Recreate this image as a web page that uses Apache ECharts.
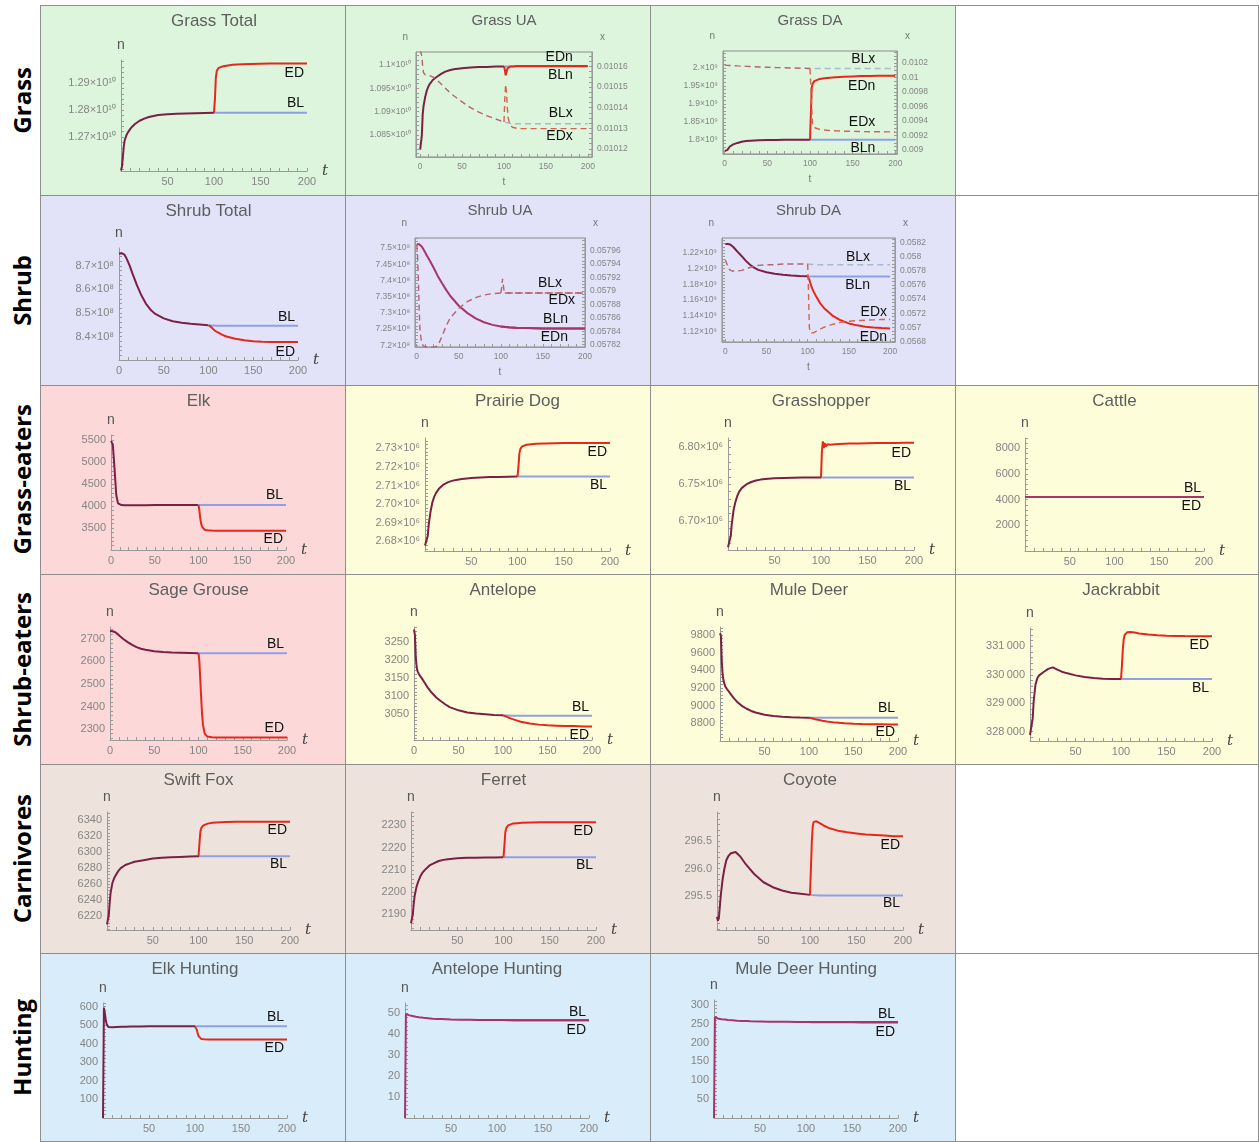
<!DOCTYPE html>
<html>
<head>
<meta charset="utf-8">
<title>Baseline vs ED scenarios</title>
<script src="https://cdn.jsdelivr.net/npm/echarts@6.0.0/dist/echarts.min.js"></script>
<style>
  html, body { margin: 0; padding: 0; background: #fff; }
  #page { position: relative; width: 1259px; height: 1142px; overflow: hidden; }
  .cell { position: absolute; box-sizing: border-box; border: 1px solid #8e8e8e; }
  .chart { position: absolute; }
  .rowlabel { position: absolute; left: 0; width: 42px; display: flex; align-items: center; justify-content: center; }
  .rowlabel span { writing-mode: vertical-rl; transform: rotate(180deg); font-family: 'Open Sans', sans-serif;
    font-weight: 700; font-size: 24px; color: #000; white-space: nowrap; }
</style>
</head>
<body>
<div id="page"></div>
<script>
// time grids: BL runs over the whole period, ED departs from BL at t = 100
const tAll = [0, 1, 2, 3, 4, 6, 8, 10, 12, 15, 20, 25, 30, 35, 40, 50, 60, 70, 80, 90, 100,
  110, 120, 130, 140, 150, 160, 170, 180, 190, 200];
const tEd = [100, 101, 102, 103, 104, 105, 107, 110, 115, 120, 130, 140, 150, 160, 170, 180, 190, 200];
const tSplit = 100;

// Grass (n in units of 10^10 / 10^9)
const grassTotalBL = [1.2576, 1.2590, 1.2625, 1.2665, 1.2688, 1.2708, 1.2720, 1.2730, 1.2738, 1.2748,
  1.2760, 1.2768, 1.2774, 1.2778, 1.2781, 1.2784, 1.2786, 1.2787, 1.2788, 1.2789, 1.2790,
  1.2790, 1.2790, 1.2790, 1.2790, 1.2790, 1.2790, 1.2790, 1.2790, 1.2790, 1.2790];
const grassTotalED = [1.2790, 1.2840, 1.2920, 1.2945, 1.2952, 1.2956, 1.2959, 1.2962, 1.2965, 1.2967,
  1.2969, 1.2970, 1.2971, 1.2972, 1.2972, 1.2972, 1.2972, 1.2972];

const grassUaBLn = [1.0819, 1.0819, 1.0850, 1.0895, 1.0912, 1.0932, 1.0946, 1.0955, 1.0961, 1.0968,
  1.0975, 1.0981, 1.0986, 1.0989, 1.0991, 1.0993, 1.0995, 1.0996, 1.0996, 1.0997, 1.0997,
  1.0997, 1.0997, 1.0997, 1.0997, 1.0997, 1.0997, 1.0997, 1.0997, 1.0997, 1.0997];
const grassUaEDn = [1.0997, 1.0990, 1.0978, 1.0985, 1.0992, 1.0995, 1.0997, 1.0997, 1.0998, 1.0998,
  1.0998, 1.0998, 1.0998, 1.0998, 1.0998, 1.0998, 1.0998, 1.0998];
const grassUaBLx = [0.010168, 0.010168, 0.010165, 0.010160, 0.010157, 0.010156, 0.010156, 0.0101558, 0.0101555, 0.010155,
  0.0101535, 0.0101515, 0.0101495, 0.0101475, 0.0101458, 0.0101428, 0.0101400, 0.0101378, 0.0101360, 0.0101345, 0.0101330,
  0.0101322, 0.0101322, 0.0101322, 0.0101322, 0.0101322, 0.0101322, 0.0101322, 0.0101322, 0.0101322, 0.0101322];
const grassUaEDx = [0.0101330, 0.0101450, 0.0101513, 0.0101470, 0.0101400, 0.0101350, 0.0101318, 0.0101305, 0.0101300, 0.0101299,
  0.0101298, 0.0101298, 0.0101298, 0.0101298, 0.0101298, 0.0101298, 0.0101298, 0.0101298];

const grassDaBLn = [1.7700, 1.7700, 1.7710, 1.7720, 1.7750, 1.7820, 1.7860, 1.7880, 1.7900, 1.7920,
  1.7950, 1.7970, 1.7980, 1.7990, 1.7995, 1.8000, 1.8003, 1.8005, 1.8006, 1.8007, 1.8008,
  1.8008, 1.8008, 1.8008, 1.8008, 1.8008, 1.8008, 1.8008, 1.8008, 1.8008, 1.8008];
const grassDaEDn = [1.8008, 1.8700, 1.9450, 1.9550, 1.9600, 1.9630, 1.9660, 1.9680, 1.9700, 1.9720,
  1.9740, 1.9750, 1.9760, 1.9770, 1.9770, 1.9780, 1.9780, 1.9780];
const grassDaBLx = [0.010172, 0.010171, 0.010170, 0.010168, 0.010167, 0.010167, 0.010166, 0.010165, 0.010163, 0.010161,
  0.010158, 0.010155, 0.010152, 0.010149, 0.010147, 0.010143, 0.010139, 0.010136, 0.010132, 0.010129, 0.010126,
  0.010126, 0.010126, 0.010126, 0.010126, 0.010126, 0.010126, 0.010126, 0.010126, 0.010126, 0.010126];
const grassDaEDx = [0.010126, 0.010150, 0.009600, 0.009330, 0.009320, 0.009310, 0.009300, 0.009290, 0.009278, 0.009272,
  0.009265, 0.009260, 0.009258, 0.009255, 0.009253, 0.009252, 0.009251, 0.009250];

// Shrub (n in units of 10^8 / 10^9)
const shrubTotalBL = [8.752, 8.753, 8.754, 8.754, 8.753, 8.748, 8.735, 8.718, 8.700, 8.668,
  8.618, 8.575, 8.540, 8.515, 8.497, 8.477, 8.465, 8.458, 8.454, 8.451, 8.448,
  8.446, 8.446, 8.446, 8.446, 8.446, 8.446, 8.446, 8.446, 8.446, 8.446];
const shrubTotalED = [8.448, 8.446, 8.443, 8.440, 8.436, 8.432, 8.425, 8.418, 8.408, 8.400,
  8.390, 8.384, 8.380, 8.378, 8.377, 8.376, 8.376, 8.376];

const shrubUaBLn = [7.512, 7.512, 7.512, 7.512, 7.511, 7.505, 7.496, 7.487, 7.477, 7.464,
  7.440, 7.414, 7.392, 7.371, 7.352, 7.322, 7.300, 7.283, 7.271, 7.263, 7.258,
  7.255, 7.2535, 7.253, 7.2525, 7.252, 7.252, 7.252, 7.252, 7.252, 7.252];
const shrubUaEDn = [7.258, 7.2578, 7.2576, 7.2574, 7.2572, 7.2570, 7.2565, 7.2555, 7.2545, 7.2535,
  7.2530, 7.2525, 7.2520, 7.2520, 7.2520, 7.2520, 7.2520, 7.2520];
const shrubUaBLx = [0.057969, 0.057955, 0.057920, 0.057870, 0.057840, 0.057822, 0.057818, 0.057817, 0.057816, 0.057816,
  0.057816, 0.057818, 0.057832, 0.057848, 0.057860, 0.057874, 0.057884, 0.057890, 0.057894, 0.057896, 0.057897,
  0.057897, 0.057897, 0.057897, 0.057897, 0.057897, 0.057897, 0.057897, 0.057897, 0.057897, 0.057897];
const shrubUaEDx = [0.057897, 0.057905, 0.057918, 0.057908, 0.057899, 0.057897, 0.057897, 0.057897, 0.057897, 0.057897,
  0.057897, 0.057897, 0.057897, 0.057897, 0.057897, 0.057897, 0.057897, 0.057897];

const shrubDaBLn = [1.2316, 1.2316, 1.2316, 1.2316, 1.2315, 1.2310, 1.2295, 1.2275, 1.2252, 1.2215,
  1.2160, 1.2100, 1.2050, 1.2013, 1.1985, 1.1955, 1.1935, 1.1922, 1.1913, 1.1907, 1.1903,
  1.1900, 1.1900, 1.1900, 1.1900, 1.1900, 1.1900, 1.1900, 1.1900, 1.1900, 1.1900];
const shrubDaEDn = [1.1903, 1.1890, 1.1860, 1.1825, 1.1790, 1.1760, 1.1710, 1.1650, 1.1560, 1.1495,
  1.1400, 1.1340, 1.1300, 1.1275, 1.1258, 1.1247, 1.1240, 1.1235];
const shrubDaBLx = [0.05796, 0.05795, 0.05790, 0.05786, 0.05783, 0.05781, 0.05780, 0.05780, 0.05780, 0.05780,
  0.05781, 0.05783, 0.05785, 0.05787, 0.05788, 0.05789, 0.05789, 0.05790, 0.05790, 0.05790, 0.05790,
  0.05789, 0.05789, 0.05789, 0.05789, 0.05789, 0.05789, 0.05789, 0.05789, 0.05789, 0.05789];
const shrubDaEDx = [0.05790, 0.05750, 0.05700, 0.05692, 0.05691, 0.056915, 0.05692, 0.05694, 0.05697, 0.05700,
  0.05704, 0.05707, 0.057085, 0.057095, 0.05710, 0.057105, 0.05711, 0.05711];

// Grass-eaters
const elkBL = [5480, 5470, 5400, 5150, 4860, 4250, 4060, 4030, 4020, 4016,
  4015, 4016, 4017, 4018, 4019, 4020, 4021, 4022, 4022, 4023, 4023,
  4023, 4023, 4023, 4023, 4023, 4023, 4023, 4023, 4023, 4023];
const elkED = [4023, 3900, 3720, 3600, 3530, 3490, 3460, 3448, 3442, 3440,
  3440, 3440, 3440, 3440, 3440, 3440, 3440, 3440];

const prairieDogBL = [2.6778, 2.6778, 2.6780, 2.6830, 2.6890, 2.6960, 2.7010, 2.7040, 2.7060, 2.7082,
  2.7105, 2.7118, 2.7126, 2.7131, 2.7135, 2.7140, 2.7143, 2.7145, 2.7146, 2.7147, 2.7148,
  2.7148, 2.7148, 2.7148, 2.7148, 2.7148, 2.7148, 2.7148, 2.7148, 2.7148, 2.7148];
const prairieDogED = [2.7148, 2.7200, 2.7270, 2.7295, 2.7305, 2.7310, 2.7315, 2.7319, 2.7322, 2.7324,
  2.7326, 2.7327, 2.7328, 2.7328, 2.7328, 2.7328, 2.7328, 2.7328];

const grasshopperBL = [6.6644, 6.6644, 6.6650, 6.6800, 6.6955, 6.7150, 6.7260, 6.7340, 6.7400, 6.7450,
  6.7500, 6.7530, 6.7550, 6.7562, 6.7570, 6.7580, 6.7585, 6.7588, 6.7590, 6.7591, 6.7592,
  6.7592, 6.7592, 6.7592, 6.7592, 6.7592, 6.7592, 6.7592, 6.7592, 6.7592, 6.7592];
const grasshopperED = [6.7592, 6.7950, 6.8080, 6.7990, 6.8060, 6.8010, 6.8040, 6.8035, 6.8042, 6.8046,
  6.8050, 6.8053, 6.8055, 6.8057, 6.8058, 6.8059, 6.8060, 6.8060];

const cattleBL = [4210, 4210, 4210, 4210, 4210, 4210, 4210, 4210, 4210, 4210,
  4210, 4210, 4210, 4210, 4210, 4210, 4210, 4210, 4210, 4210, 4210,
  4210, 4210, 4210, 4210, 4210, 4210, 4210, 4210, 4210, 4210];
const cattleED = [4210, 4210, 4210, 4210, 4210, 4210, 4210, 4210, 4210, 4210,
  4210, 4210, 4210, 4210, 4210, 4210, 4210, 4210];

// Shrub-eaters
const sageGrouseBL = [2734, 2734, 2733, 2733, 2732, 2729, 2723, 2716, 2709, 2699,
  2685, 2673, 2663, 2656, 2651, 2645, 2641, 2639, 2638, 2637, 2636,
  2636, 2636, 2636, 2636, 2636, 2636, 2636, 2636, 2636, 2636];
const sageGrouseED = [2636, 2600, 2520, 2440, 2370, 2320, 2280, 2267, 2264, 2263,
  2263, 2263, 2263, 2263, 2263, 2263, 2263, 2263];

const antelopeBL = [3285, 3270, 3208, 3180, 3168, 3158, 3151, 3144, 3136, 3124,
  3108, 3095, 3085, 3076, 3068, 3059, 3053, 3050, 3048, 3046, 3045,
  3044, 3044, 3044, 3044, 3044, 3044, 3044, 3044, 3044, 3044];
const antelopeED = [3045, 3044, 3043, 3042, 3041, 3040, 3038, 3035, 3031, 3027,
  3022, 3019, 3017, 3016, 3015, 3015, 3014, 3014];

const muleDeerBL = [9820, 9790, 9500, 9350, 9280, 9215, 9185, 9160, 9130, 9090,
  9035, 8995, 8965, 8940, 8922, 8898, 8884, 8875, 8869, 8865, 8862,
  8862, 8862, 8862, 8862, 8862, 8862, 8862, 8862, 8862, 8862];
const muleDeerED = [8862, 8861, 8859, 8857, 8855, 8852, 8847, 8840, 8830, 8821,
  8808, 8800, 8795, 8792, 8790, 8789, 8788, 8788];

const jackrabbitBL = [327880, 327880, 327900, 328470, 329060, 329650, 329880, 329980, 330040, 330100,
  330210, 330260, 330180, 330110, 330060, 329980, 329920, 329885, 329865, 329852, 329848,
  329848, 329848, 329848, 329848, 329848, 329848, 329848, 329848, 329848, 329848];
const jackrabbitED = [329848, 330300, 330900, 331250, 331400, 331460, 331500, 331506, 331485, 331455,
  331415, 331392, 331378, 331368, 331362, 331358, 331355, 331353];

// Carnivores
const swiftFoxBL = [6210, 6210, 6222, 6238, 6250, 6262, 6268, 6272, 6276, 6280,
  6284, 6286, 6288, 6289, 6290, 6292, 6293, 6293.5, 6294, 6294.5, 6295,
  6295, 6295, 6295, 6295, 6295, 6295, 6295, 6295, 6295, 6295];
const swiftFoxED = [6295, 6310, 6325, 6330, 6332, 6333, 6334.5, 6335.5, 6336.5, 6337,
  6337.5, 6338, 6338, 6338, 6338, 6338, 6338, 6338];

const ferretBL = [2186, 2186, 2190, 2195, 2198.5, 2202.5, 2205, 2207, 2208.5, 2210,
  2212, 2213, 2214, 2214.5, 2214.8, 2215.2, 2215.4, 2215.5, 2215.6, 2215.6, 2215.7,
  2215.7, 2215.7, 2215.7, 2215.7, 2215.7, 2215.7, 2215.7, 2215.7, 2215.7, 2215.7];
const ferretED = [2215.7, 2221, 2227, 2228.8, 2229.5, 2230, 2230.4, 2230.8, 2231, 2231.2,
  2231.3, 2231.4, 2231.4, 2231.4, 2231.4, 2231.4, 2231.4, 2231.4];

const coyoteBL = [295.12, 295.05, 295.1, 295.3, 295.5, 295.8, 296.0, 296.15, 296.22, 296.28,
  296.3, 296.22, 296.1, 296.0, 295.9, 295.75, 295.66, 295.6, 295.56, 295.54, 295.52,
  295.51, 295.51, 295.51, 295.51, 295.51, 295.51, 295.51, 295.51, 295.51, 295.51];
const coyoteED = [295.52, 296.0, 296.5, 296.78, 296.85, 296.87, 296.86, 296.83, 296.78, 296.74,
  296.69, 296.66, 296.64, 296.62, 296.61, 296.6, 296.59, 296.59];

// Hunting
const elkHuntBL = [0, 595, 565, 530, 505, 490, 488, 489, 490, 491,
  492, 492, 493, 493, 493, 494, 494, 494, 494, 494, 494,
  494, 494, 494, 494, 494, 494, 494, 494, 494, 494];
const elkHuntED = [494, 490, 475, 455, 440, 432, 426, 424, 423, 423,
  423, 423, 423, 423, 423, 423, 423, 423];

const antelopeHuntBL = [0, 49.8, 49.6, 49.4, 49.2, 49.0, 48.8, 48.6, 48.4, 48.2,
  47.9, 47.7, 47.5, 47.4, 47.3, 47.1, 47.0, 46.95, 46.9, 46.9, 46.85,
  46.85, 46.8, 46.8, 46.8, 46.8, 46.8, 46.8, 46.8, 46.8, 46.8];
const antelopeHuntED = [46.85, 46.85, 46.84, 46.84, 46.83, 46.83, 46.82, 46.8, 46.78, 46.76,
  46.74, 46.72, 46.7, 46.7, 46.7, 46.7, 46.7, 46.7];

const muleDeerHuntBL = [0, 268, 266, 265, 264, 263, 262, 261.5, 261, 260,
  259, 258, 257.5, 257, 256.5, 256, 255.5, 255, 255, 254.8, 254.6,
  254.5, 254.5, 254.5, 254.5, 254.5, 254.5, 254.5, 254.5, 254.5, 254.5];
const muleDeerHuntED = [254.6, 254.6, 254.5, 254.5, 254.4, 254.4, 254.3, 254.2, 254.1, 254,
  253.9, 253.8, 253.7, 253.6, 253.6, 253.5, 253.5, 253.5];

// tick values
const tTicks = [50, 100, 150, 200];
const tTicks0 = [0, 50, 100, 150, 200];

const FONT = "'Liberation Sans', Arial, sans-serif";
const MIX = '#7b1f45', BLUE = '#8fa0e4', RED = '#e4281b', SAME = '#a8346a';
const MIXX = '#b4646f', BLUEX = '#a6bccd', REDX = '#d4644e';
const AXIS = '#9a9a9a', TICKTXT = '#858585';
const GREEN = '#dcf5dc', LILAC = '#e2e2f8', PINK = '#fdd8d8', CREAM = '#fdfdd9', TAN = '#eee3dc', SKY = '#d9ecfa';

const colLeft = [40, 345, 650, 955, 1259];
const rowTop = [5, 195, 385, 574, 764, 953, 1142];
const rowNames = ['Grass', 'Shrub', 'Grass-eaters', 'Shrub-eaters', 'Carnivores', 'Hunting'];
const cellBg = [
  [GREEN, GREEN, GREEN, '#fff'],
  [LILAC, LILAC, LILAC, '#fff'],
  [PINK, CREAM, CREAM, CREAM],
  [PINK, CREAM, CREAM, CREAM],
  [TAN, TAN, TAN, '#fff'],
  [SKY, SKY, SKY, '#fff']
];

function sup(n) { return String(n).split('').map(d => '⁰¹²³⁴⁵⁶⁷⁸⁹'[+d]).join(''); }
function sci(exp, dec) {
  return v => {
    let s = dec != null ? v.toFixed(dec) : String(parseFloat(v.toFixed(4)));
    if (s.indexOf('.') < 0) s += '.';
    return s + '×10' + sup(exp);
  };
}
const plain = v => String(parseFloat(v.toFixed(6)));
const oneDec = v => v.toFixed(1);
const kilo = v => Math.round(v / 1000) + '\u2009000';

const charts = [
  { title: 'Grass Total', r: 0, c: 0, grid: [81, 38, 55, 24], xTicks: tTicks,
    y: { min: 1.2574, max: 1.2985, ticks: [1.27, 1.28, 1.29], fmt: sci(10, 2) },
    bl: grassTotalBL, ed: grassTotalED, lBL: ['BL', -3, -10], lED: ['ED', -3, 10] },
  { title: 'Grass UA', r: 0, c: 1, grid: [71, 58, 47, 38], xMin: -5, xMax: 205, xTicks: tTicks0,
    y: { min: 1.0803, max: 1.1028, ticks: [1.085, 1.09, 1.095, 1.1], fmt: sci(10) },
    y2: { min: 0.0101160, max: 0.0101671, ticks: [0.01012, 0.01013, 0.01014, 0.01015, 0.01016], fmt: plain },
    bl: grassUaBLn, ed: grassUaEDn, bx: grassUaBLx, ex: grassUaEDx,
    lBL: ['BLn', -15, 9], lED: ['EDn', -15, -9], lBX: ['BLx', -15, -11], lEX: ['EDx', -15, 7] },
  { title: 'Grass DA', r: 0, c: 2, grid: [73, 58, 46, 41], xMin: -2, xMax: 202, xTicks: tTicks0,
    y: { min: 1.7613, max: 2.0464, ticks: [1.8, 1.85, 1.9, 1.95, 2], fmt: sci(9) },
    y2: { min: 0.008945, max: 0.010367, ticks: [0.009, 0.0092, 0.0094, 0.0096, 0.0098, 0.01, 0.0102, 0.0104], fmt: plain },
    bl: grassDaBLn, ed: grassDaEDn, bx: grassDaBLx, ex: grassDaEDx,
    lBL: ['BLn', -20, 8], lED: ['EDn', -20, 10], lBX: ['BLx', -20, -9], lEX: ['EDx', -20, -10] },

  { title: 'Shrub Total', r: 1, c: 0, grid: [79, 47, 53, 25], xTicks: tTicks0,
    y: { min: 8.3, max: 8.776, ticks: [8.4, 8.5, 8.6, 8.7], fmt: sci(8, 1) },
    bl: shrubTotalBL, ed: shrubTotalED, lBL: ['BL', -3, -9], lED: ['ED', -3, 10] },
  { title: 'Shrub UA', r: 1, c: 1, grid: [70, 65, 43, 38], xMin: -2, xMax: 200, xTicks: tTicks0, same: true,
    y: { min: 7.1947, max: 7.531, ticks: [7.2, 7.25, 7.3, 7.35, 7.4, 7.45, 7.5], fmt: sci(8) },
    y2: { min: 0.0578164, max: 0.057979, ticks: [0.05782, 0.05784, 0.05786, 0.05788, 0.0579, 0.05792, 0.05794, 0.05796], fmt: plain },
    bl: shrubUaBLn, ed: shrubUaEDn, bx: shrubUaBLx, ex: shrubUaEDx,
    lBL: ['BLn', -17, -9], lED: ['EDn', -17, 9], lBX: ['BLx', -23, -10], lEX: ['EDx', -10, 7] },
  { title: 'Shrub DA', r: 1, c: 2, grid: [72, 60, 43, 43], xMin: -4, xMax: 206, xTicks: tTicks0,
    y: { min: 1.1062, max: 1.2393, ticks: [1.12, 1.14, 1.16, 1.18, 1.2, 1.22], fmt: sci(9) },
    y2: { min: 0.05679, max: 0.05827, ticks: [0.0568, 0.057, 0.0572, 0.0574, 0.0576, 0.0578, 0.058, 0.0582], fmt: plain },
    bl: shrubDaBLn, ed: shrubDaEDn, bx: shrubDaBLx, ex: shrubDaEDx,
    lBL: ['BLn', -20, 9], lED: ['EDn', -3, 9], lBX: ['BLx', -20, -8], lEX: ['EDx', -3, -7] },

  { title: 'Elk', r: 2, c: 0, grid: [71, 59, 50, 24], xTicks: tTicks0,
    y: { min: 3000, max: 5613, ticks: [3500, 4000, 4500, 5000, 5500], fmt: plain },
    bl: elkBL, ed: elkED, lBL: ['BL', -3, -10], lED: ['ED', -3, 9] },
  { title: 'Prairie Dog', r: 2, c: 1, grid: [80, 40, 53, 23], xTicks: tTicks,
    y: { min: 2.6748, max: 2.7355, ticks: [2.68, 2.69, 2.70, 2.71, 2.72, 2.73], fmt: sci(6, 2) },
    bl: prairieDogBL, ed: prairieDogED, lBL: ['BL', -3, 9], lED: ['ED', -3, 9] },
  { title: 'Grasshopper', r: 2, c: 2, grid: [78, 41, 53, 24], xTicks: tTicks,
    y: { min: 6.6608, max: 6.8126, ticks: [6.70, 6.75, 6.80], fmt: sci(6, 2) },
    bl: grasshopperBL, ed: grasshopperED, lBL: ['BL', -3, 9], lED: ['ED', -3, 10] },
  { title: 'Cattle', r: 2, c: 3, grid: [70, 55, 53, 23], xTicks: tTicks, same: true,
    y: { min: 0, max: 8800, ticks: [2000, 4000, 6000, 8000], fmt: plain },
    bl: cattleBL, ed: cattleED, lBL: ['BL', -3, -9], lED: ['ED', -3, 9] },

  { title: 'Sage Grouse', r: 3, c: 0, grid: [70, 58, 53, 24], xTicks: tTicks0,
    y: { min: 2252, max: 2752, ticks: [2300, 2400, 2500, 2600, 2700], fmt: plain },
    bl: sageGrouseBL, ed: sageGrouseED, lBL: ['BL', -3, -9], lED: ['ED', -3, -9] },
  { title: 'Antelope', r: 3, c: 1, grid: [69, 58, 53, 24], xTicks: tTicks0,
    y: { min: 2976, max: 3292, ticks: [3050, 3100, 3150, 3200, 3250], fmt: plain },
    bl: antelopeBL, ed: antelopeED, lBL: ['BL', -3, -9], lED: ['ED', -3, 9] },
  { title: 'Mule Deer', r: 3, c: 2, grid: [70, 57, 53, 23], xTicks: tTicks,
    y: { min: 8600, max: 9890, ticks: [8800, 9000, 9200, 9400, 9600, 9800], fmt: plain },
    bl: muleDeerBL, ed: muleDeerED, lBL: ['BL', -3, -10], lED: ['ED', -3, 8] },
  { title: 'Jackrabbit', r: 3, c: 3, grid: [75, 47, 54, 23], xTicks: tTicks,
    y: { min: 327670, max: 331647, ticks: [328000, 329000, 330000, 331000], fmt: kilo },
    bl: jackrabbitBL, ed: jackrabbitED, lBL: ['BL', -3, 9], lED: ['ED', -3, 9] },

  { title: 'Swift Fox', r: 4, c: 0, grid: [67, 55, 48, 23], xTicks: tTicks,
    y: { min: 6203, max: 6350, ticks: [6220, 6240, 6260, 6280, 6300, 6320, 6340], fmt: plain },
    bl: swiftFoxBL, ed: swiftFoxED, lBL: ['BL', -3, 8], lED: ['ED', -3, 9] },
  { title: 'Ferret', r: 4, c: 1, grid: [66, 54, 48, 23], xTicks: tTicks,
    y: { min: 2183, max: 2236, ticks: [2190, 2200, 2210, 2220, 2230], fmt: plain },
    bl: ferretBL, ed: ferretED, lBL: ['BL', -3, 8], lED: ['ED', -3, 9] },
  { title: 'Coyote', r: 4, c: 2, grid: [67, 52, 48, 23], xTicks: tTicks,
    y: { min: 294.88, max: 297.03, ticks: [295.5, 296.0, 296.5], fmt: oneDec },
    bl: coyoteBL, ed: coyoteED, lBL: ['BL', -3, 8], lED: ['ED', -3, 9] },

  { title: 'Elk Hunting', r: 5, c: 0, grid: [63, 58, 50, 24], xTicks: tTicks,
    y: { min: 0, max: 620, ticks: [100, 200, 300, 400, 500, 600], fmt: plain },
    bl: elkHuntBL, ed: elkHuntED, lBL: ['BL', -3, -9], lED: ['ED', -3, 9] },
  { title: 'Antelope Hunting', r: 5, c: 1, grid: [60, 61, 50, 24], xTicks: tTicks, same: true,
    y: { min: 0, max: 55, ticks: [10, 20, 30, 40, 50], fmt: plain },
    bl: antelopeHuntBL, ed: antelopeHuntED, lBL: ['BL', -3, -8], lED: ['ED', -3, 10] },
  { title: 'Mule Deer Hunting', r: 5, c: 2, grid: [64, 57, 47, 24], xTicks: tTicks, same: true,
    y: { min: 0, max: 313, ticks: [50, 100, 150, 200, 250, 300], fmt: plain },
    bl: muleDeerHuntBL, ed: muleDeerHuntED, lBL: ['BL', -3, -8], lED: ['ED', -3, 10] }
];

const pts = (t, v) => t.map((x, i) => [x, v[i]]);

// small tick marks: subdivide the labelled step over the axis range
function minorTicks(min, max, step, parts) {
  const s = step / parts, out = [];
  for (let k = Math.ceil(min / s - 1e-9); k * s <= max + 1e-12; k++) out.push(+(k * s).toPrecision(10));
  return out;
}

// colour that switches at t = 100 (shared trajectory before, own colour after)
function splitColor(t, before, after) {
  const f = (tSplit - t[0]) / (t[t.length - 1] - t[0]);
  return {
    type: 'linear', x: 0, y: 0, x2: 1, y2: 0,
    colorStops: [{ offset: 0, color: before }, { offset: f, color: before },
      { offset: f, color: after }, { offset: 1, color: after }]
  };
}

// curve name written just next to the end of its curve
function endMark(t, v, lab) {
  const [text, dx, dy] = lab;
  return {
    symbol: 'circle', symbolSize: 1, silent: true, animation: false,
    itemStyle: { color: 'rgba(0,0,0,0)' },
    label: { show: true, position: 'inside', formatter: text, color: '#111', fontFamily: FONT, fontSize: 14,
      align: 'right', verticalAlign: 'middle', offset: [dx, dy] },
    data: [{ coord: [t[t.length - 1], v[v.length - 1]] }]
  };
}

function line(t, v, yIdx, color, width, dashed, lab, z) {
  return {
    type: 'line', data: pts(t, v), yAxisIndex: yIdx, showSymbol: false, symbol: 'none',
    silent: true, z: z, color: typeof color === 'string' ? color : '#111',
    lineStyle: { width: width, color: color, type: dashed ? [6, 4] : 'solid' },
    markPoint: endMark(t, v, lab)
  };
}

function axisParts(ticks, fmt, size, min, max, parts) {
  const step = ticks[1] - ticks[0];
  return {
    axisLine: { show: true, onZero: false, lineStyle: { color: AXIS, width: 1 } },
    axisTick: { show: true, inside: true, length: 3, customValues: minorTicks(min, max, step, parts), lineStyle: { color: AXIS } },
    axisLabel: { show: true, customValues: ticks, formatter: fmt, color: TICKTXT, fontSize: size, fontFamily: FONT, margin: 5 },
    splitLine: { show: false }
  };
}

function buildOption(c, w) {
  const [gl, gr, gt, gb] = c.grid;
  const framed = !!c.bx;
  const fs = framed ? 8.5 : 11;
  const series = [];

  series.push(line(tAll, c.bl, 0, c.same ? SAME : splitColor(tAll, MIX, BLUE), 2, false, c.lBL, 2));
  series.push(line(tEd, c.ed, 0, c.same ? SAME : RED, 2, false, c.lED, 3));
  if (framed) {
    series.push(line(tAll, c.bx, 1, c.same ? MIXX : splitColor(tAll, MIXX, BLUEX), 1.4, true, c.lBX, 2));
    series.push(line(tEd, c.ex, 1, c.same ? MIXX : REDX, 1.4, true, c.lEX, 3));
  }

  const xMin = c.xMin != null ? c.xMin : 0, xMax = c.xMax != null ? c.xMax : 200;
  const xAxis = Object.assign({ type: 'value', min: xMin, max: xMax, name: 't' },
    axisParts(c.xTicks, v => String(v), fs, Math.max(xMin, 0), Math.min(xMax, 200), 5));
  if (framed) {
    Object.assign(xAxis, { nameLocation: 'middle', nameGap: 20, nameTextStyle: { color: '#777', fontSize: 10, fontFamily: FONT } });
  } else {
    Object.assign(xAxis, { nameLocation: 'end', nameGap: 3,
      nameTextStyle: { color: '#444', fontSize: 15, fontStyle: 'italic', fontFamily: 'DejaVu Serif, serif', padding: [0, 0, 12, 0] } });
  }

  const yAxis = [Object.assign({
    type: 'value', min: c.y.min, max: c.y.max, name: 'n', nameLocation: 'end', nameGap: framed ? 10 : 8,
    nameTextStyle: framed
      ? { color: '#777', fontSize: 10, fontFamily: FONT, align: 'right', padding: [0, 8, 0, 0] }
      : { color: '#555', fontSize: 14, fontFamily: FONT }
  }, axisParts(c.y.ticks, c.y.fmt, fs, c.y.min, c.y.max, 5))];
  if (framed) {
    yAxis.push(Object.assign({
      type: 'value', position: 'right', min: c.y2.min, max: c.y2.max, name: 'x', nameLocation: 'end', nameGap: 10,
      nameTextStyle: { color: '#777', fontSize: 10, fontFamily: FONT, align: 'left', padding: [0, 0, 0, 8] }
    }, axisParts(c.y2.ticks, c.y2.fmt, fs, c.y2.min, c.y2.max, 4)));
  }

  return {
    animation: false,
    graphic: [{
      type: 'text', x: gl + (w - gl - gr) / 2, y: 8, silent: true,
      style: { text: c.title, align: 'center', verticalAlign: 'top', fill: '#5e5e5e',
        fontSize: framed ? 15 : 17, fontFamily: FONT }
    }],
    grid: {
      left: gl, right: gr, top: gt, bottom: gb, containLabel: false, outerBoundsMode: 'none',
      show: framed, borderColor: '#8a8a8a', borderWidth: 1, backgroundColor: 'transparent'
    },
    xAxis: xAxis,
    yAxis: yAxis,
    series: series
  };
}

const page = document.getElementById('page');

// row labels
rowNames.forEach((name, r) => {
  const d = document.createElement('div');
  d.className = 'rowlabel';
  d.style.top = rowTop[r] + 'px';
  d.style.height = (rowTop[r + 1] - rowTop[r]) + 'px';
  const s = document.createElement('span');
  s.textContent = name;
  d.appendChild(s);
  page.appendChild(d);
});

// cell backgrounds and borders
for (let r = 0; r < 6; r++) {
  for (let c = 0; c < 4; c++) {
    const d = document.createElement('div');
    d.className = 'cell';
    d.style.left = colLeft[c] + 'px';
    d.style.top = rowTop[r] + 'px';
    d.style.width = (colLeft[c + 1] - colLeft[c] + (c < 3 ? 1 : 0)) + 'px';
    d.style.height = (rowTop[r + 1] - rowTop[r] + (r < 5 ? 1 : 0)) + 'px';
    d.style.background = cellBg[r][c];
    page.appendChild(d);
  }
}

// charts
charts.forEach(c => {
  const w = colLeft[c.c + 1] - colLeft[c.c];
  const h = rowTop[c.r + 1] - rowTop[c.r];
  const el = document.createElement('div');
  el.className = 'chart';
  el.style.left = colLeft[c.c] + 'px';
  el.style.top = rowTop[c.r] + 'px';
  el.style.width = w + 'px';
  el.style.height = h + 'px';
  page.appendChild(el);
  const chart = echarts.init(el, null, { renderer: 'canvas' });
  chart.setOption(buildOption(c, w));
});
</script>
</body>
</html>
